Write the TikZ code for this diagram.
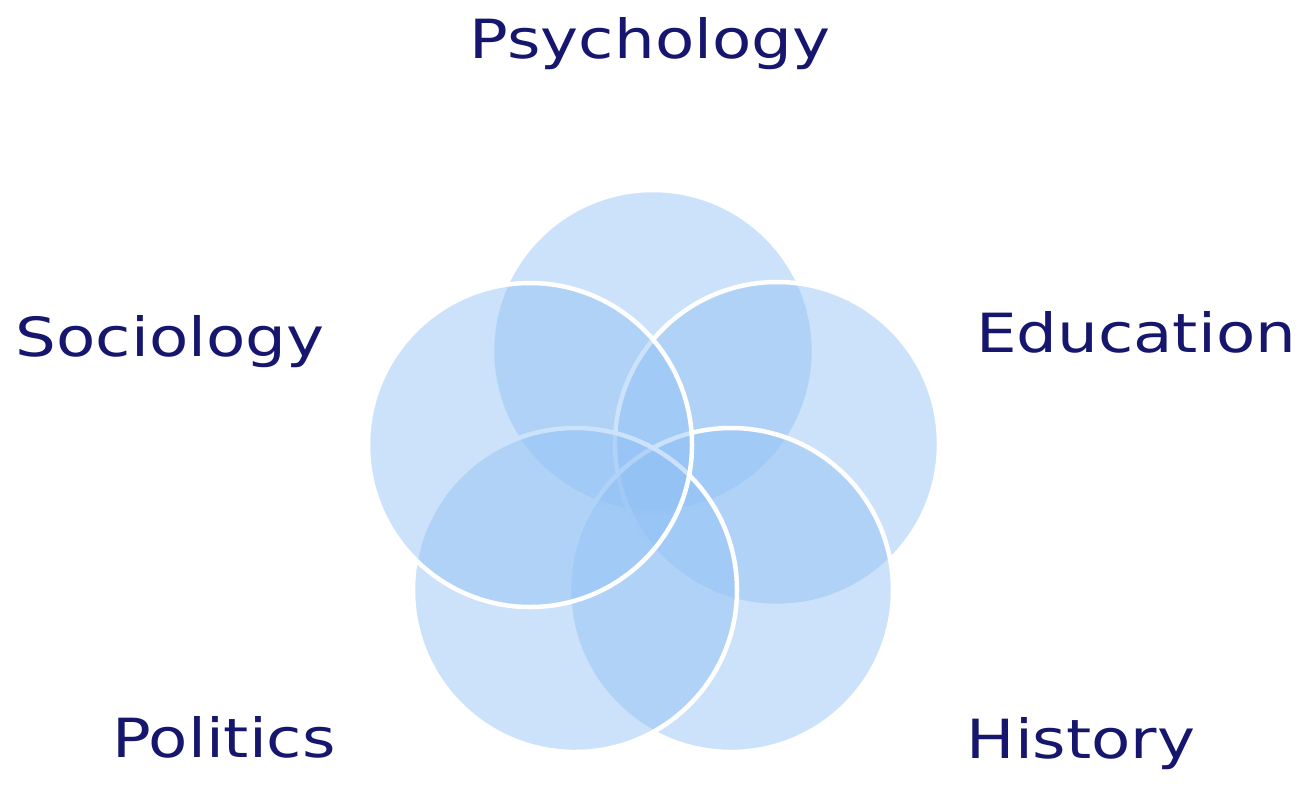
\documentclass[tikz,border=0pt]{standalone}
\usepackage{fontspec}
\setmainfont{DejaVu Sans}
\definecolor{circfill}{RGB}{142,191,244}
\definecolor{navy}{RGB}{22,22,110}
\tikzset{
  venn/.style={fill=circfill, fill opacity=0.45, draw=white, draw opacity=1, line width=4.5pt},
  lbl/.style={text=navy, anchor=base, inner sep=0pt, font=\fontsize{54}{60}\selectfont},
}
\newcommand{\wlab}[1]{\scalebox{1.19}[1]{#1}}
\begin{document}
\begin{tikzpicture}[x=1pt,y=-1pt]
\useasboundingbox (0,0) rectangle (1305,785);
% circles, drawn in stacking order
\path[venn] (653,351) circle (161);   % top
\path[venn] (777,444) circle (162);   % right
\path[venn] (731,590) circle (162);   % bottom right
\path[venn] (575,590) circle (162);   % bottom left
\path[venn] (530,445) circle (162);   % left
\node[lbl] (psy) at (650,58) {\wlab{Psychology}};
\node[lbl] (soc) at (170,356) {\wlab{Sociology}};
\node[lbl] (edu) at (1136,352) {\wlab{Education}};
\node[lbl] (pol) at (224,757) {\wlab{Politics}};
\node[lbl] (his) at (1081,758) {\wlab{History}};
\end{tikzpicture}
\end{document}
